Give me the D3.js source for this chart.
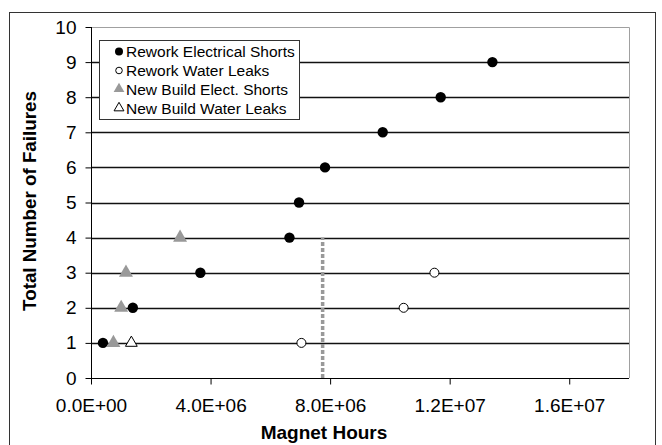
<!DOCTYPE html>
<html><head><meta charset="utf-8">
<script src="https://cdn.jsdelivr.net/npm/d3@7"></script>
<style>
html,body{margin:0;padding:0;background:#fff;}
svg{display:block;font-family:"Liberation Sans",Arial,sans-serif;}
</style></head>
<body>
<svg id="chart" width="662" height="445"></svg>
<script>
// Data (x in magnet hours, y = cumulative failures)
const reworkElecX = [0.40e6, 1.40e6, 3.66e6, 6.64e6, 6.96e6, 7.83e6, 9.76e6, 11.70e6, 13.43e6];
const reworkElecY = [1, 2, 3, 4, 5, 6, 7, 8, 9];
const reworkWaterX = [7.04e6, 10.46e6, 11.49e6];
const reworkWaterY = [1, 2, 3];
const newElecX = [0.75e6, 1.01e6, 1.17e6, 2.98e6];
const newElecY = [1, 2, 3, 4];
const newWaterX = [1.35e6];
const newWaterY = [1];
const refLineX = 7.75e6;
const refLineY = [0, 4];
const xTicks = [0, 4e6, 8e6, 1.2e7, 1.6e7];
const xTickLabels = ["0.0E+00", "4.0E+06", "8.0E+06", "1.2E+07", "1.6E+07"];
const yTicks = [0, 1, 2, 3, 4, 5, 6, 7, 8, 9, 10];
const legendLabels = ["Rework Electrical Shorts", "Rework Water Leaks", "New Build Elect. Shorts", "New Build Water Leaks"];

const svg = d3.select("#chart");
const L = 91, R = 629, T = 27, B = 378;
const x = d3.scaleLinear().domain([0, 1.8e7]).range([L, R]);
const y = d3.scaleLinear().domain([0, 10]).range([B, T]);

// outer border
svg.append("rect").attr("x", 9.5).attr("y", 12.5).attr("width", 646).attr("height", 460)
  .attr("fill", "none").attr("stroke", "#333").attr("stroke-width", 1);

// plot border (grey top/right)
svg.append("path").attr("d", `M${L},${T+0.5}H${R+0.5}V${B}`)
  .attr("fill", "none").attr("stroke", "#a0a0a0").attr("stroke-width", 1);

// gridlines
svg.append("g").selectAll("line").data(yTicks.filter(d => d > 0 && d < 10)).join("line")
  .attr("x1", L).attr("x2", R).attr("y1", d => Math.round(y(d)) + 0.5).attr("y2", d => Math.round(y(d)) + 0.5)
  .attr("stroke", "#111").attr("stroke-width", 1.3);

// y axis
const yAxis = d3.axisLeft(y).tickValues(yTicks).tickSize(6).tickPadding(9).tickFormat(d3.format("d"));
const gy = svg.append("g").attr("transform", `translate(${L + 0.5},0)`).call(yAxis);
gy.select(".domain").attr("stroke", "#000").attr("d", `M0,${T}V${B}`);
gy.selectAll(".tick line").attr("stroke", "#000");
gy.selectAll(".tick text").attr("font-size", "19px").attr("fill", "#000")
  .attr("font-family", "Liberation Sans, Arial, sans-serif");

// x axis
const xAxis = d3.axisBottom(x).tickValues(xTicks).tickSize(6).tickPadding(14)
  .tickFormat((d, i) => xTickLabels[i]);
const gx = svg.append("g").attr("transform", `translate(0,${B + 0.5})`).call(xAxis);
gx.select(".domain").attr("stroke", "#000").attr("d", `M${L},0H${R}`);
gx.selectAll(".tick line").attr("stroke", "#000");
gx.selectAll(".tick text").attr("font-size", "19px").attr("fill", "#000")
  .attr("font-family", "Liberation Sans, Arial, sans-serif");

// axis titles
svg.append("text").attr("x", 324).attr("y", 439).attr("text-anchor", "middle")
  .attr("font-size", "19px").attr("font-weight", "bold").text("Magnet Hours");
svg.append("text").attr("transform", "translate(36,201) rotate(-90)").attr("text-anchor", "middle")
  .attr("font-size", "18.8px").attr("font-weight", "bold").text("Total Number of Failures");

// reference dashed line
svg.append("line").attr("x1", x(refLineX)).attr("x2", x(refLineX))
  .attr("y1", y(refLineY[0])).attr("y2", y(refLineY[1]))
  .attr("stroke", "#999").attr("stroke-width", 3.5).attr("stroke-dasharray", "4,2");

const tri = (s) => d3.symbol().type(d3.symbolTriangle).size(s)();

// series
svg.append("g").selectAll("circle").data(reworkElecX).join("circle")
  .attr("cx", d => x(d)).attr("cy", (d, i) => y(reworkElecY[i])).attr("r", 5.2).attr("fill", "#000");
svg.append("g").selectAll("circle").data(reworkWaterX).join("circle")
  .attr("cx", d => x(d)).attr("cy", (d, i) => y(reworkWaterY[i])).attr("r", 4.5)
  .attr("fill", "#fff").attr("stroke", "#000").attr("stroke-width", 1);
svg.append("g").selectAll("path").data(newElecX).join("path")
  .attr("d", tri(85)).attr("transform", (d, i) => `translate(${x(d)},${y(newElecY[i])})`)
  .attr("fill", "#999");
svg.append("g").selectAll("path").data(newWaterX).join("path")
  .attr("d", tri(60)).attr("transform", (d, i) => `translate(${x(d)},${y(newWaterY[i])})`)
  .attr("fill", "#fff").attr("stroke", "#000").attr("stroke-width", 1);

// legend
const lg = svg.append("g");
lg.append("rect").attr("x", 99.5).attr("y", 40.5).attr("width", 200).attr("height", 79)
  .attr("fill", "#fff").attr("stroke", "#333").attr("stroke-width", 1);
const rowY = [51.5, 70.5, 89, 108];
const sx = 119;
lg.append("circle").attr("cx", sx).attr("cy", rowY[0]).attr("r", 4).attr("fill", "#000");
lg.append("circle").attr("cx", sx).attr("cy", rowY[1]).attr("r", 3.3).attr("fill", "#fff").attr("stroke", "#000");
lg.append("path").attr("d", tri(50)).attr("transform", `translate(${sx},${rowY[2]})`).attr("fill", "#999");
lg.append("path").attr("d", tri(42)).attr("transform", `translate(${sx},${rowY[3]})`).attr("fill", "#fff").attr("stroke", "#000");
lg.selectAll("text").data(legendLabels).join("text")
  .attr("x", 126).attr("y", (d, i) => rowY[i] + 5.5).attr("font-size", "15.5px").attr("fill", "#000").text(d => d);
</script>
</body></html>
